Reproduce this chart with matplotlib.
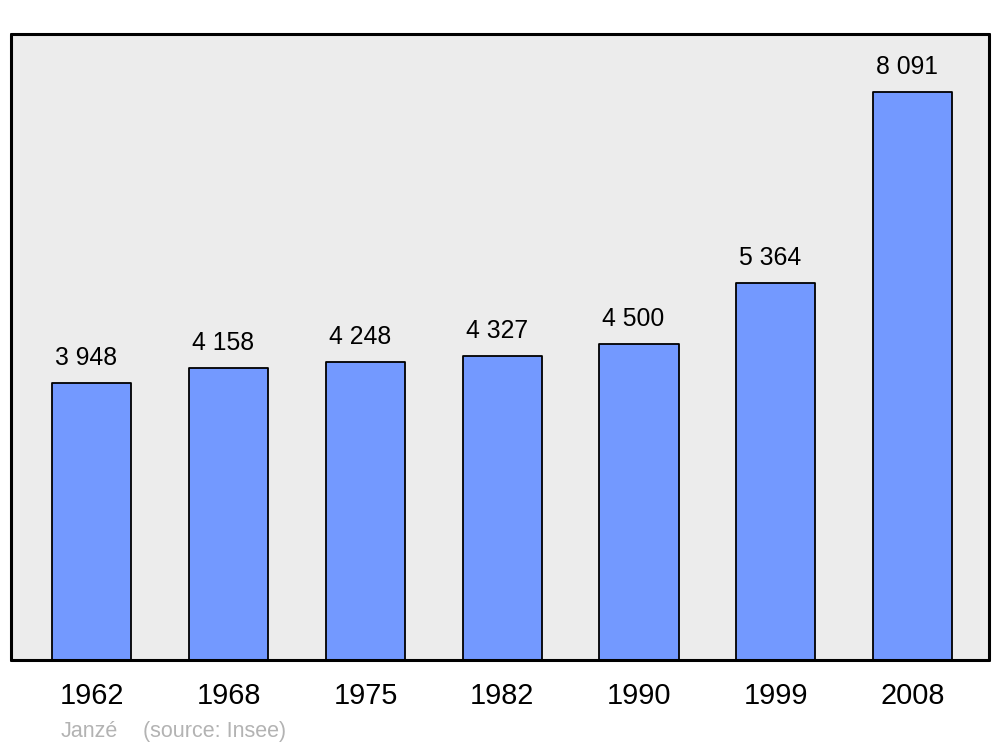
import numpy as np
import matplotlib.pyplot as plt

years = ['1962', '1968', '1975', '1982', '1990', '1999', '2008']
population = [3948, 4158, 4248, 4327, 4500, 5364, 8091]
value_labels = ['3 948', '4 158', '4 248', '4 327', '4 500', '5 364', '8 091']

plt.rcParams['font.family'] = ['Liberation Sans', 'DejaVu Sans']

fig = plt.figure(figsize=(10, 7.47), dpi=100)
ax = fig.add_axes([0.011, 0.1165, 0.978, 0.838])
ax.set_facecolor('#ececec')

x = np.arange(len(years))
bars = ax.bar(x, population, width=0.578, color='#7399ff',
              edgecolor='black', linewidth=1.3, zorder=2)
for b in bars:
    b.set_joinstyle('round')

# value labels above bars
for xi, v, lab in zip(x, population, value_labels):
    ax.annotate(lab, (xi, v), xytext=(-5.5, 18), textcoords='offset pixels',
                ha='center', va='baseline', fontsize=17.8)

ax.set_xlim(-0.592, 6.559)
ax.set_ylim(0, 8917)
ax.set_xticks(x)
ax.set_xticklabels(years, fontsize=20.8)
ax.tick_params(axis='x', length=0, pad=16)
ax.set_yticks([])

for s in ax.spines.values():
    s.set_linewidth(2.2)
    s.set_capstyle('round')
    s.set_joinstyle('round')

fig.text(0.061, 0.013, 'Janzé', fontsize=15.5, color='#b3b3b3', ha='left', va='baseline')
fig.text(0.143, 0.013, '(source: Insee)', fontsize=15.5, color='#b3b3b3', ha='left', va='baseline')

plt.savefig('out.png')
